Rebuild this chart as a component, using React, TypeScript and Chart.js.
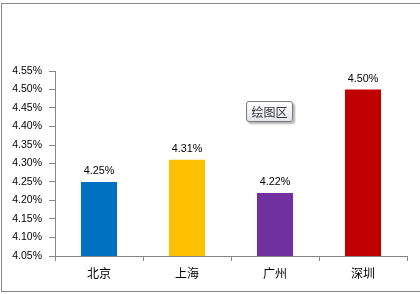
import React, { useEffect, useRef } from "react";
import { Chart, registerables } from "chart.js";

Chart.register(...registerables);

const categories = ["北京", "上海", "广州", "深圳"];
const values = [4.25, 4.31, 4.22, 4.5];
const barColors = ["#0070C0", "#FFC000", "#7030A0", "#C00000"];
const yMin = 4.05;
const yMax = 4.55;
const yStep = 0.05;
const plotAreaLabel = "绘图区";

const fmt = (v: number) => v.toFixed(2) + "%";

const dataLabelPlugin = {
  id: "dataLabels",
  afterDatasetsDraw(chart: any) {
    const ctx = chart.ctx;
    ctx.save();
    ctx.font = '10.8px "Liberation Sans", Arial, sans-serif';
    ctx.fillStyle = "#000";
    ctx.textAlign = "center";
    ctx.textBaseline = "alphabetic";
    chart.data.datasets.forEach((ds: any, di: number) => {
      const meta = chart.getDatasetMeta(di);
      meta.data.forEach((bar: any, i: number) => {
        ctx.fillText(fmt(ds.data[i]), bar.x, bar.y - 8);
      });
    });
    ctx.restore();
  },
};

export default function App() {
  const ref = useRef<HTMLCanvasElement | null>(null);
  useEffect(() => {
    document.body.style.margin = "0";
    const chart = new Chart(ref.current as HTMLCanvasElement, {
      type: "bar",
      data: {
        labels: categories,
        datasets: [
          {
            data: values,
            backgroundColor: barColors,
            borderWidth: 0,
            categoryPercentage: 1,
            barPercentage: 0.41,
          },
        ],
      },
      options: {
        animation: false,
        responsive: false,
        devicePixelRatio: 1,
        layout: { padding: { left: 0, top: 71, right: 13, bottom: 0 } },
        plugins: {
          legend: { display: false },
          tooltip: { enabled: false },
          title: { display: false },
        },
        scales: {
          x: {
            grid: {
              display: true,
              drawOnChartArea: false,
              drawTicks: true,
              tickLength: 5,
              color: "#868686",
              offset: true,
            },
            border: { display: true, color: "#868686", width: 1 },
            ticks: {
              color: "#000",
              padding: 5,
              font: { family: '"Noto Sans CJK SC", sans-serif', size: 12 },
            },
            afterFit: (s: any) => {
              s.height = 38;
            },
          },
          y: {
            min: yMin,
            max: yMax,
            grid: {
              display: true,
              drawOnChartArea: false,
              drawTicks: true,
              tickLength: 6,
              color: "#868686",
            },
            border: { display: true, color: "#868686", width: 1 },
            ticks: {
              stepSize: yStep,
              color: "#000",
              padding: 7,
              font: { family: '"Liberation Sans", Arial, sans-serif', size: 10.5 },
              callback: (v: any) => fmt(Number(v)),
            },
            afterFit: (s: any) => {
              s.width = 55;
            },
          },
        },
      },
      plugins: [dataLabelPlugin],
    });
    return () => chart.destroy();
  }, []);

  return (
    <div
      style={{
        position: "absolute",
        left: 0,
        top: 0,
        width: 420,
        height: 294,
        overflow: "hidden",
        background: "#fff",
      }}
    >
      <div
        style={{
          position: "absolute",
          left: 1,
          top: 3,
          width: 440,
          height: 289,
          boxSizing: "border-box",
          border: "1px solid #878787",
        }}
      />
      <canvas
        ref={ref}
        width={420}
        height={294}
        style={{ position: "absolute", left: 0, top: 0, width: 420, height: 294 }}
      />
      <div
        style={{
          position: "absolute",
          left: 246,
          top: 101,
          width: 47,
          height: 21,
          boxSizing: "border-box",
          border: "1px solid #7a7a7a",
          borderRadius: 3,
          background: "linear-gradient(#ffffff, #e3e5ec)",
          boxShadow: "2px 2px 2px rgba(0,0,0,0.3)",
          font: '12px "Noto Sans CJK SC", sans-serif',
          color: "#333",
          lineHeight: "19px",
          textAlign: "center",
        }}
      >
        {plotAreaLabel}
      </div>
    </div>
  );
}
